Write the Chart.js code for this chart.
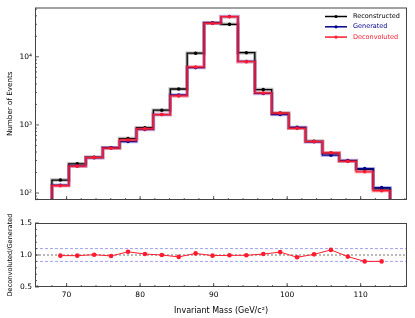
<!DOCTYPE html>
<html lang="en">
<head>
<meta charset="UTF-8" />
<title>Invariant mass: reconstructed, generated and deconvoluted</title>
<script src="https://cdn.jsdelivr.net/npm/chart.js"></script>
<style>
  html, body { margin: 0; padding: 0; background: #fff; }
  #wrap { position: relative; width: 415px; height: 318px; }
  #top { position: absolute; left: 0; top: 0; }
  #bottom { position: absolute; left: 0; top: 212px; }
</style>
</head>
<body>
<div id="wrap">
  <canvas id="top" width="415" height="212"></canvas>
  <canvas id="bottom" width="415" height="106"></canvas>
</div>
<script>
  // bin centres (GeV/c^2), 20 bins of 2.3 from 68 to 114
  const massBins = [69.15, 71.45, 73.75, 76.05, 78.35, 80.65, 82.95, 85.25, 87.55, 89.85,
                    92.15, 94.45, 96.75, 99.05, 101.35, 103.65, 105.95, 108.25, 110.55, 112.85];
  const binWidth = 2.3;

  const reconstructed = [155, 268, 335, 462, 630, 910, 1645, 3370, 11300, 31500,
                         30000, 11500, 3300, 1490, 900, 575, 385, 295, 222, 115];
  const generated     = [130, 250, 330, 462, 570, 860, 1420, 2750, 6950, 31300,
                         39000, 8550, 2900, 1420, 920, 565, 360, 300, 228, 120];
  const deconvoluted  = [128, 248, 332, 455, 600, 875, 1420, 2670, 7100, 31000,
                         38800, 8500, 2950, 1490, 890, 570, 390, 292, 205, 108];
  const ratio         = [0.99, 0.99, 1.005, 0.985, 1.05, 1.015, 1.0, 0.97, 1.025, 0.99,
                         0.995, 0.995, 1.015, 1.045, 0.965, 1.01, 1.08, 0.975, 0.90, 0.90];

  const xTicks = [70, 80, 90, 100, 110];
  const countTicks = [100, 1000, 10000];
  const countTickLabels = ['10²', '10³', '10⁴'];
  const ratioTicks = [0.5, 1.0, 1.5];
  const ratioTickLabels = ['0.5', '1.0', '1.5'];
  const ratioLines = [0.9, 1.0, 1.1];

  const X_MIN = 65.7, X_MAX = 116.3;
  const FONT = 'DejaVu Sans';
  const BLACK = '#000000', BLUE = '#00008b', RED = '#ff1a2e';

  const series = [
    { label: 'Reconstructed', data: reconstructed, color: BLACK, halo: 'rgba(0,0,0,0.28)' },
    { label: 'Generated', data: generated, color: BLUE, halo: 'rgba(40,40,200,0.33)' },
    { label: 'Deconvoluted', data: deconvoluted, color: RED, halo: 'rgba(255,40,60,0.33)' }
  ];

  // histogram outline: points at bin edges, drawn with step interpolation
  function stepPoints(vals) {
    const last = vals.length - 1;
    const pts = [{ x: massBins[0] - binWidth / 2, y: 10 }];
    vals.forEach((v, i) => pts.push({ x: massBins[i] - binWidth / 2, y: v }));
    pts.push({ x: massBins[last] + binWidth / 2, y: vals[last] });
    pts.push({ x: massBins[last] + binWidth / 2, y: 10 });
    return pts;
  }

  const xMinor = [];
  for (let v = 66; v <= 116; v += 2) xMinor.push(v);
  const logMinor = [];
  for (let k = 1; k <= 4; k++) for (let m = 2; m <= 9; m++) logMinor.push(m * Math.pow(10, k));
  const ratioMinor = [];
  for (let v = 0.6; v < 1.45; v += 0.1) ratioMinor.push(Math.round(v * 10) / 10);

  // frame round the plot area, with inward ticks on left and bottom
  const frameTicks = {
    id: 'frameTicks',
    afterDraw(chart, args, opts) {
      const { ctx, chartArea: a, scales } = chart;
      ctx.save();
      ctx.strokeStyle = '#333';
      ctx.lineWidth = 0.8;
      const seg = (x1, y1, x2, y2) => { ctx.beginPath(); ctx.moveTo(x1, y1); ctx.lineTo(x2, y2); ctx.stroke(); };
      const inX = v => v >= scales.x.min && v <= scales.x.max;
      const inY = v => v >= scales.y.min && v <= scales.y.max;
      opts.xMajor.filter(inX).forEach(v => { const p = scales.x.getPixelForValue(v); seg(p, a.bottom, p, a.bottom - 4); });
      opts.xMinor.filter(inX).forEach(v => { const p = scales.x.getPixelForValue(v); seg(p, a.bottom, p, a.bottom - 2); });
      opts.yMajor.filter(inY).forEach(v => { const p = scales.y.getPixelForValue(v); seg(a.left, p, a.left + 4, p); });
      opts.yMinor.filter(inY).forEach(v => { const p = scales.y.getPixelForValue(v); seg(a.left, p, a.left + 2, p); });
      ctx.strokeStyle = '#444';
      ctx.lineWidth = 1;
      ctx.strokeRect(a.left + 0.5, a.top + 0.5, a.width - 1, a.height - 1);
      ctx.restore();
    }
  };

  // legend inside the top right corner, text in the series colour
  const cornerLegend = {
    id: 'cornerLegend',
    afterDraw(chart) {
      const { ctx, chartArea: a } = chart;
      ctx.save();
      ctx.font = '6.5px "' + FONT + '"';
      ctx.textBaseline = 'middle';
      series.forEach((s, i) => {
        const y = a.top + 9 + i * 10.3;
        ctx.strokeStyle = s.color;
        ctx.lineWidth = 1.5;
        ctx.beginPath(); ctx.moveTo(a.right - 82, y); ctx.lineTo(a.right - 60, y); ctx.stroke();
        ctx.fillStyle = s.color;
        ctx.beginPath(); ctx.arc(a.right - 71, y, 1.6, 0, Math.PI * 2); ctx.fill();
        ctx.fillText(s.label, a.right - 54, y);
      });
      ctx.restore();
    }
  };

  const topDatasets = [];
  series.forEach((s, i) => {
    const order = 3 - i;
    topDatasets.push({
      data: stepPoints(s.data), stepped: true, borderColor: s.halo, borderWidth: 3.5,
      pointRadius: 0, order: order + 0.5
    });
    topDatasets.push({
      data: stepPoints(s.data), stepped: true, borderColor: s.color, borderWidth: 1.3,
      pointRadius: 0, order: order + 0.2
    });
    topDatasets.push({
      data: massBins.map((m, j) => ({ x: m, y: s.data[j] })), showLine: false,
      pointRadius: 1.8, pointBackgroundColor: s.color, pointBorderWidth: 0, order: order
    });
  });

  new Chart(document.getElementById('top'), {
    type: 'line',
    data: { datasets: topDatasets },
    options: {
      responsive: false,
      animation: false,
      layout: { padding: { top: 7, right: 8, bottom: 0, left: 0 } },
      plugins: {
        legend: { display: false },
        tooltip: { enabled: false },
        frameTicks: { xMajor: xTicks, xMinor: xMinor, yMajor: countTicks, yMinor: logMinor }
      },
      scales: {
        x: {
          type: 'linear', min: X_MIN, max: X_MAX,
          grid: { display: false }, border: { display: false },
          ticks: { display: false },
          afterFit: s => { s.height = 12; }
        },
        y: {
          type: 'logarithmic', min: 79, max: 53000,
          grid: { display: false, drawTicks: false }, border: { display: false },
          afterBuildTicks: s => { s.ticks = countTicks.map(v => ({ value: v })); },
          ticks: {
            padding: 3, color: '#000', font: { family: FONT, size: 7.5 },
            callback: v => countTickLabels[countTicks.indexOf(v)]
          },
          title: { display: true, text: 'Number of Events', color: '#000',
                   font: { family: FONT, size: 7.2 }, padding: { top: 6, bottom: 0 } },
          afterFit: s => { s.width = 35; }
        }
      }
    },
    plugins: [frameTicks, cornerLegend]
  });

  const bottomDatasets = [
    { data: [{ x: X_MIN, y: ratioLines[0] }, { x: X_MAX, y: ratioLines[0] }], borderColor: 'rgba(70,70,230,0.75)',
      borderWidth: 0.7, borderDash: [3, 2], pointRadius: 0, order: 5 },
    { data: [{ x: X_MIN, y: ratioLines[1] }, { x: X_MAX, y: ratioLines[1] }], borderColor: '#9a9a9a',
      borderWidth: 1.4, borderDash: [2, 2], pointRadius: 0, order: 4 },
    { data: [{ x: X_MIN, y: ratioLines[2] }, { x: X_MAX, y: ratioLines[2] }], borderColor: 'rgba(70,70,230,0.75)',
      borderWidth: 0.7, borderDash: [3, 2], pointRadius: 0, order: 5 },
    { data: massBins.map((m, j) => ({ x: m, y: ratio[j] })), borderColor: RED, borderWidth: 1,
      pointRadius: 2.3, pointBackgroundColor: RED, pointBorderWidth: 0, tension: 0, order: 1 }
  ];

  new Chart(document.getElementById('bottom'), {
    type: 'line',
    data: { datasets: bottomDatasets },
    options: {
      responsive: false,
      animation: false,
      layout: { padding: { top: 11, right: 8, bottom: 0, left: 0 } },
      plugins: {
        legend: { display: false },
        tooltip: { enabled: false },
        frameTicks: { xMajor: xTicks, xMinor: xMinor, yMajor: ratioTicks, yMinor: ratioMinor }
      },
      scales: {
        x: {
          type: 'linear', min: X_MIN, max: X_MAX,
          grid: { display: false, drawTicks: false }, border: { display: false },
          afterBuildTicks: s => { s.ticks = xTicks.map(v => ({ value: v })); },
          ticks: { padding: 4, maxRotation: 0, color: '#000', font: { family: FONT, size: 7.5 } },
          title: { display: true, text: 'Invariant Mass (GeV/c²)', color: '#000',
                   font: { family: FONT, size: 8 }, padding: { top: 2, bottom: 2 } },
          afterFit: s => { s.height = 31; }
        },
        y: {
          type: 'linear', min: 0.5, max: 1.5,
          grid: { display: false, drawTicks: false }, border: { display: false },
          afterBuildTicks: s => { s.ticks = ratioTicks.map(v => ({ value: v })); },
          ticks: {
            padding: 3, color: '#000', font: { family: FONT, size: 7.5 },
            callback: v => ratioTickLabels[ratioTicks.indexOf(v)]
          },
          title: { display: true, text: 'Deconvoluted/Generated', color: '#000',
                   font: { family: FONT, size: 6.6 }, padding: { top: 6, bottom: 0 } },
          afterFit: s => { s.width = 35; }
        }
      }
    },
    plugins: [frameTicks]
  });
</script>
</body>
</html>
